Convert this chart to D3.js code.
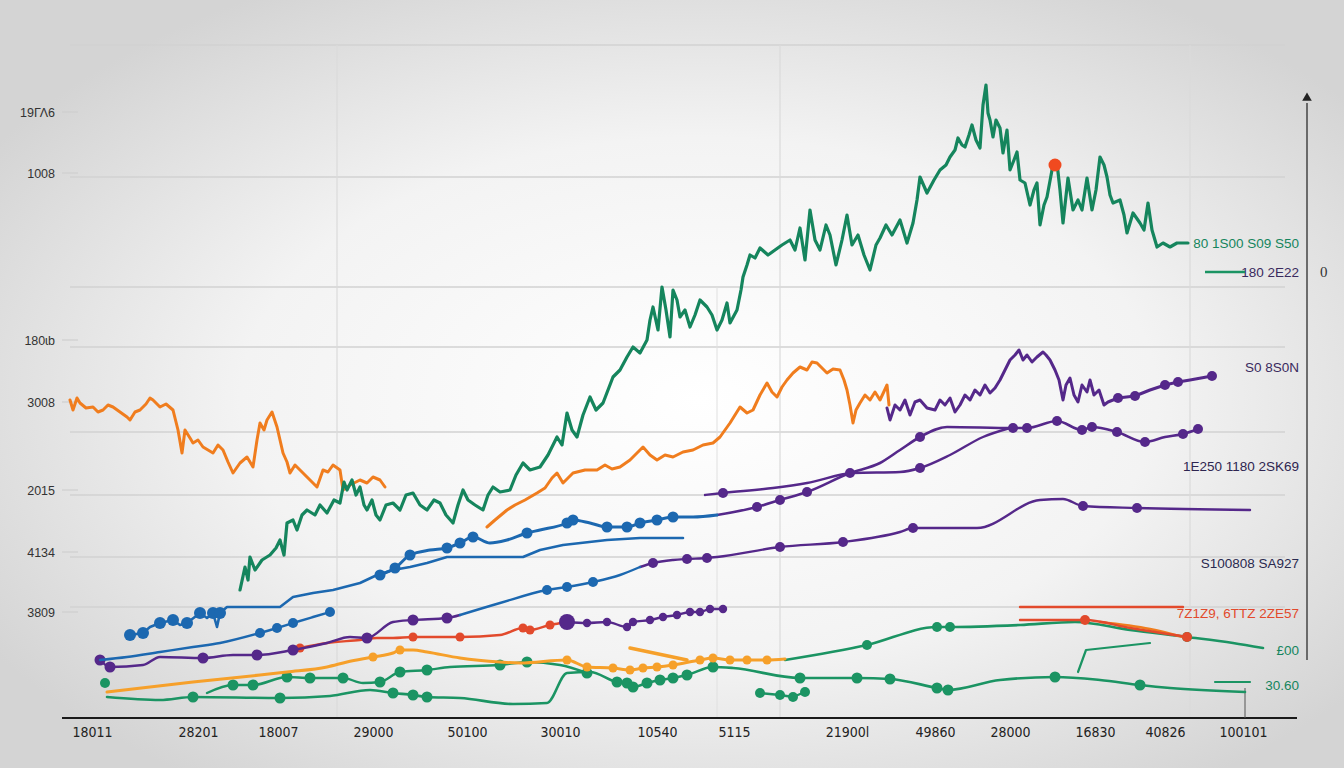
<!DOCTYPE html>
<html><head><meta charset="utf-8">
<script src="https://cdn.jsdelivr.net/npm/d3@7"></script>
<style>html,body{margin:0;padding:0;overflow:hidden;background:#e6e6e6}</style>
</head><body>
<svg id="c" width="1344" height="768"></svg>
<script>
// ---------- DATA ----------
const yTickLabels = ["19ΓΛ6","1008","180ɩb","3008","2015","4134","3809"];
const yTickLabelValues = [60.6,54.5,37.8,31.6,22.8,16.6,10.6];
const gridValues = [67.3,54.1,43.1,37.1,28.6,22.3,16.1,11.1];
const xTickLabels = ["18011","28201","18007","29000","50100","30010","10540","5115","21900l","49860","28000","16830","40826","100101"];
const xTickValues = [3.2,13.8,21.8,31.3,40.7,50.0,59.7,67.4,78.7,87.5,95.0,103.5,110.5,118.3];
const vGridValues = [27.7,72.0,113.0];
const rightLabels = ["80 1S00  S09 S50","180 2E22","S0 8S0N","1E250 1180 2SK69","S100808  SA927","7Z1Z9, 6TTZ 2ZE57","£00","30.60"];
const rightLabelValues = [47.5,44.6,35.1,25.2,15.5,10.5,6.8,3.3];

const greenMain = [[18.0,12.8],[18.5,15.1],[18.8,13.8],[19.0,16.1],[19.5,14.8],[20.2,15.8],[21.0,16.3],[21.6,17.0],[22.0,17.8],[22.4,16.3],[22.7,19.5],[23.3,19.8],[23.7,18.8],[24.2,20.3],[24.7,20.8],[25.5,20.3],[26.0,21.3],[26.7,20.5],[27.4,21.8],[28.0,21.5],[28.4,23.6],[28.7,22.8],[29.2,23.8],[29.6,22.3],[30.0,23.1],[30.4,21.3],[30.7,20.8],[31.2,21.8],[31.6,20.3],[32.0,19.8],[32.6,21.3],[33.3,21.5],[34.0,20.8],[34.6,22.3],[35.3,22.5],[36.0,21.3],[36.7,20.8],[37.4,21.8],[38.0,21.5],[38.6,20.3],[39.3,19.5],[39.8,21.3],[40.3,22.8],[40.8,21.8],[41.5,21.3],[42.3,20.8],[42.8,22.3],[43.3,23.1],[44.0,22.6],[45.0,22.8],[45.6,24.3],[46.3,25.5],[47.0,24.8],[48.0,25.1],[48.8,26.3],[49.7,28.1],[50.2,27.3],[50.7,30.5],[51.2,28.8],[51.7,28.1],[52.3,30.3],[53.0,32.1],[53.6,30.8],[54.3,31.5],[54.8,32.8],[55.3,34.1],[56.0,34.8],[56.7,36.1],[57.3,37.1],[58.0,36.5],[58.7,37.8],[59.0,39.8],[59.3,41.1],[59.8,38.8],[60.2,43.1],[60.6,40.8],[61.0,38.1],[61.3,42.8],[61.7,41.8],[62.0,40.1],[62.5,40.8],[63.0,39.1],[63.5,40.3],[64.0,41.8],[64.7,41.1],[65.2,40.3],[65.7,38.8],[66.2,39.8],[66.7,41.5],[67.0,39.5],[67.7,40.8],[68.1,42.8],[68.3,44.1],[68.7,45.3],[69.0,46.3],[69.5,46.0],[70.0,47.0],[70.8,46.3],[71.5,46.8],[72.2,47.3],[73.0,47.8],[73.5,46.8],[74.0,49.0],[74.5,45.8],[75.0,50.8],[75.5,47.8],[76.0,46.8],[76.6,49.3],[77.0,48.3],[77.6,45.3],[78.2,47.8],[78.7,50.3],[79.2,47.3],[79.8,48.3],[80.4,46.3],[81.0,44.8],[81.6,47.3],[82.0,48.0],[82.6,49.3],[83.2,48.3],[84.0,49.8],[84.7,47.5],[85.3,49.5],[85.7,51.8],[86.0,54.1],[86.7,52.5],[87.4,53.8],[88.0,54.8],[88.6,55.3],[89.0,56.1],[89.5,56.8],[89.8,58.0],[90.2,57.3],[90.5,57.1],[90.9,58.3],[91.2,59.3],[91.6,57.8],[92.0,57.0],[92.3,61.3],[92.6,63.3],[92.8,60.5],[93.0,59.8],[93.3,58.1],[93.6,59.8],[94.0,59.0],[94.3,56.5],[94.7,58.8],[95.0,54.8],[95.4,55.8],[95.7,56.6],[96.0,53.8],[96.5,53.5],[97.0,51.3],[97.4,52.8],[97.7,53.5],[98.0,49.3],[98.4,51.3],[98.7,52.1],[99.2,54.8],[99.7,55.5],[100.0,52.8],[100.3,49.5],[100.8,54.0],[101.3,50.8],[101.8,51.8],[102.2,50.8],[102.7,54.0],[103.2,50.8],[103.6,52.8],[104.0,56.1],[104.4,55.3],[104.7,54.1],[105.0,52.3],[105.3,51.5],[106.0,51.8],[106.4,50.3],[106.7,48.5],[107.3,50.5],[108.0,49.5],[108.4,48.8],[108.8,51.5],[109.2,48.8],[109.7,47.1],[110.3,47.5],[111.0,47.1],[111.7,47.5],[112.8,47.5]];
const redPeak = [[99.5,55.3]];

const orangeMain1 = [[1.0,31.8],[1.3,30.8],[1.7,32.0],[2.0,31.5],[2.6,31.0],[3.3,31.1],[3.8,30.6],[4.3,30.8],[4.8,31.3],[5.3,31.1],[6.0,30.6],[6.7,30.1],[7.0,29.8],[7.5,30.6],[8.0,30.8],[8.6,31.4],[9.0,32.0],[9.3,31.8],[10.0,31.1],[10.6,31.4],[11.3,30.8],[11.8,28.8],[12.2,26.5],[12.5,28.8],[13.0,28.0],[13.3,27.5],[13.8,27.8],[14.3,27.1],[14.8,26.8],[15.3,26.5],[15.8,27.3],[16.3,26.8],[16.8,25.6],[17.3,24.5],[18.0,25.5],[18.7,26.1],[19.3,25.1],[19.7,27.8],[20.0,29.5],[20.4,28.8],[20.7,29.8],[21.2,30.6],[21.7,29.1],[22.0,27.8],[22.3,26.5],[22.7,25.6],[23.0,24.5],[23.5,25.3],[24.0,24.8],[24.5,24.3],[25.0,23.8],[25.7,23.1],[26.3,24.8],[26.8,24.6],[27.3,25.3],[28.0,24.8],[28.3,22.8],[29.0,23.3],[30.0,23.8],[30.7,23.5],[31.3,24.1],[32.0,23.8],[32.5,23.1]];
const orangeMain2 = [[42.7,19.1],[43.5,19.8],[44.7,20.8],[45.5,21.3],[46.5,21.8],[47.7,22.5],[48.5,23.0],[49.2,24.0],[49.7,24.5],[50.3,23.5],[51.3,24.5],[52.5,24.8],[53.7,24.8],[54.5,25.3],[55.2,24.9],[56.0,25.1],[57.0,25.8],[57.8,26.6],[58.3,27.1],[59.0,26.3],[59.7,25.8],[60.5,26.3],[61.3,26.1],[62.3,26.6],[63.3,26.8],[64.3,27.3],[65.3,27.5],[66.0,28.1],[66.5,28.8],[67.0,29.5],[67.5,30.3],[68.0,31.1],[68.7,30.5],[69.3,30.8],[70.0,32.3],[70.7,33.5],[71.2,32.6],[71.7,32.1],[72.2,33.1],[72.7,33.8],[73.3,34.5],[74.0,35.1],[74.7,34.8],[75.2,35.6],[75.7,35.5],[76.2,35.0],[76.7,34.5],[77.3,34.9],[78.0,34.8],[78.4,33.8],[78.7,32.8],[79.0,31.3],[79.3,29.5],[79.6,30.8],[80.0,31.5],[80.5,32.3],[81.0,31.8],[81.5,32.6],[82.0,31.8],[82.7,33.3],[82.9,31.3]];
const purpleMain = [[82.7,31.0],[83.0,29.8],[83.5,31.3],[84.0,30.8],[84.5,31.8],[85.0,30.3],[85.5,31.6],[86.0,31.8],[86.7,31.0],[87.5,30.8],[88.0,31.8],[88.5,31.3],[89.0,32.0],[89.5,30.6],[90.0,31.3],[90.5,32.3],[91.0,31.8],[91.5,32.8],[92.0,32.3],[92.5,33.3],[93.0,32.5],[93.5,33.0],[94.0,33.8],[94.5,34.8],[95.0,35.8],[95.5,36.3],[95.9,36.8],[96.3,35.8],[96.7,36.3],[97.2,35.6],[97.7,36.1],[98.3,36.6],[98.6,36.3],[99.0,35.8],[99.5,34.8],[99.9,33.8],[100.3,31.8],[100.6,33.3],[101.0,34.0],[101.4,32.3],[101.8,31.6],[102.2,33.3],[102.7,32.6],[103.0,33.8],[103.4,32.3],[103.9,32.8],[104.4,31.3],[104.8,31.6],[105.8,32.0],[107.5,32.2],[109.0,32.8],[110.5,33.3],[111.8,33.6],[113.0,33.8],[115.2,34.2]];
const purpleMainDots = [48,49,51,52,54];

const blueA = [[7.0,8.3],[8.3,8.5],[9.0,9.1],[10.0,9.5],[11.3,9.8],[12.0,9.3],[12.7,9.5],[14.0,10.5],[14.7,10.0],[15.3,10.5],[15.7,9.1],[16.0,10.5],[16.7,11.1],[22.0,11.1],[23.3,12.1],[25.3,12.5],[27.3,12.8],[30.0,13.5],[31.7,14.3],[33.3,14.8],[35.0,15.1],[36.7,15.5],[38.7,16.1],[46.3,16.1],[48.0,16.8],[50.3,17.3],[54.7,17.8],[58.0,18.0],[62.3,18.0]];
const blueADots = [0,1,3,4,6,7,9,11];
const blueB = [[32.0,14.3],[33.5,15.0],[35.0,16.3],[37.0,16.8],[38.7,17.0],[40.0,17.5],[41.3,18.1],[43.0,17.5],[44.7,17.8],[46.7,18.5],[48.0,18.8],[50.7,19.5],[51.3,19.8],[53.0,19.5],[54.7,19.1],[56.7,19.1],[58.0,19.5],[59.7,19.8],[61.3,20.1],[63.3,20.1],[65.7,20.3]];
const blueBDots = [0,1,2,4,5,6,9,11,12,14,15,16,17,18];
const blueC = [[4.0,5.8],[6.7,6.1],[10.0,6.6],[13.3,7.1],[16.0,7.5],[20.0,8.5],[21.7,9.0],[23.3,9.5],[25.3,10.1],[27.0,10.6]];
const blueCDots = [5,6,7,9];
const blueD = [[40.0,10.3],[44.0,11.5],[48.7,12.8],[50.7,13.1],[53.3,13.6],[56.0,14.3],[58.0,15.1]];
const blueDDots = [2,3,4];

const purpleP1 = [[65.7,20.3],[69.7,21.1],[72.0,21.8],[74.7,22.6],[79.0,24.5],[82.0,25.5],[84.0,26.8],[86.0,28.1],[88.7,29.1],[95.3,29.0],[96.7,29.0],[99.7,29.7],[102.2,28.8],[103.2,29.1],[105.7,28.6],[108.5,27.6],[110.5,28.1],[112.3,28.4],[113.8,28.9]];
const purpleP1Dots = [1,2,3,4,7,9,10,11,12,13,14,15,17,18];
const purpleP2 = [[64.5,22.3],[66.3,22.5],[71.3,23.0],[74.7,23.5],[79.3,24.5],[84.0,24.6],[86.0,25.0],[89.0,26.3],[92.3,28.1],[95.0,29.0]];
const purpleP2Dots = [1,6];
const purpleP3 = [[4.0,5.8],[5.0,5.1],[8.3,5.3],[10.0,6.1],[14.3,6.0],[17.3,6.3],[19.7,6.3],[23.3,6.8],[26.7,7.5],[29.0,8.1],[30.7,8.0],[33.3,9.6],[35.3,9.8],[38.7,10.0],[40.0,10.3]];
const purpleP3Dots = [0,1,4,6,7,10,12,13];
const purpleP4 = [[58.0,15.1],[59.3,15.5],[61.3,15.8],[62.7,15.9],[64.7,16.0],[65.7,16.1],[72.0,17.1],[78.3,17.6],[84.0,18.6],[85.3,19.0],[91.7,19.0],[98.0,21.8],[100.3,21.9],[102.3,21.2],[107.7,21.0],[119.0,20.8]];
const purpleP4Dots = [1,3,4,6,7,9,13,14];
const purpleP5 = [[50.7,9.6],[52.7,9.5],[54.7,9.6],[56.7,9.1],[57.3,9.6],[59.0,9.8],[60.3,10.1],[61.7,10.3],[63.0,10.6],[64.0,10.6],[65.0,10.9],[66.3,10.9]];

const redR1 = [[24.0,7.0],[26.7,7.5],[30.0,7.8],[31.7,8.0],[33.3,8.0],[35.3,8.1],[40.0,8.1],[44.0,8.3],[46.3,9.0],[47.0,8.8],[49.0,9.3],[50.7,9.6]];
const redR1Dots = [0,5,6,8,9,10];
const redR2 = [[96.0,11.1],[112.3,11.1]];
const redR3 = [[96.0,9.8],[99.0,9.8],[102.5,9.8],[107.0,9.0],[112.7,8.1]];
const redR3Dots = [2,4];

const orangeO3 = [[4.7,2.6],[13.3,3.6],[20.0,4.3],[22.7,4.6],[26.7,5.1],[28.7,5.6],[31.3,6.1],[33.3,6.5],[34.0,6.8],[35.3,6.8],[36.7,6.6],[40.0,6.0],[44.0,5.6],[46.0,5.5],[50.7,5.8],[52.7,5.1],[55.3,5.0],[57.0,4.8],[58.3,5.0],[59.7,5.1],[61.3,5.3],[64.0,5.8],[65.3,6.0],[67.0,5.8],[68.7,5.8],[70.7,5.8],[72.5,5.9]];
const orangeO3Dots = [6,8,14,15,16,17,18,19,20,21,22,23,24,25];
const orangeO4 = [[57.0,7.0],[62.7,5.8]];
const orangeO6 = [[104.0,9.6],[109.0,8.9],[112.3,8.1]];

const greenG1 = [[4.7,2.1],[10.0,1.8],[13.3,2.1],[22.0,2.0],[27.0,2.2],[31.0,2.8],[33.3,2.5],[35.3,2.3],[36.7,2.1],[40.0,2.0],[45.3,1.4],[48.7,1.5],[50.7,4.5],[53.0,4.6],[55.7,3.6],[56.7,3.5],[57.3,3.1],[58.7,3.5],[60.0,3.8],[61.3,4.0],[62.7,4.3],[65.3,5.1],[67.3,5.0],[74.0,4.0],[79.7,4.0],[83.0,3.9],[87.7,3.0],[88.8,2.8],[94.0,3.8],[99.5,4.1],[104.0,3.8],[108.0,3.3],[111.0,3.0],[118.5,2.6]];
const greenG1Dots = [2,3,6,7,8,14,15,16,17,18,19,20,21,23,24,25,26,27,29,31];
const greenG2 = [[14.7,2.5],[17.3,3.3],[19.3,3.3],[22.7,4.1],[25.0,4.0],[28.3,4.0],[30.3,3.5],[32.0,3.6],[34.0,4.6],[36.7,4.8],[39.0,5.1],[44.0,5.3],[46.7,5.6],[50.0,5.3],[52.7,4.5]];
const greenG2Dots = [1,2,3,4,5,7,8,9,11,12,14];
const greenG3 = [[72.5,5.8],[80.7,7.3],[87.7,9.1],[89.0,9.1],[96.0,9.3],[101.5,9.6],[107.0,8.8],[112.7,8.1],[117.3,7.5],[120.3,7.0]];
const greenG3Dots = [1,2,3,7];
const greenG4 = [[70.0,2.5],[72.0,2.3],[73.3,2.1],[74.5,2.6]];
const greenG5 = [[101.8,4.6],[102.6,6.8],[109.0,7.5]];
const greenG6 = [[115.5,3.6],[119.0,3.6]];
const greenLone = [[4.5,3.5]];

// ---------- DRAW ----------
const W = 1344, H = 768;
const svg = d3.select("#c");
const x = d3.scaleLinear().domain([0,124]).range([60,1300]);
const y = d3.scaleLinear().domain([0,68]).range([718,38]);

const defs = svg.append("defs");
const rg = defs.append("radialGradient").attr("id","bg").attr("cx","52%").attr("cy","52%").attr("r","62%");
rg.append("stop").attr("offset","0%").attr("stop-color","#ffffff");
rg.append("stop").attr("offset","55%").attr("stop-color","#f3f3f3");
rg.append("stop").attr("offset","100%").attr("stop-color","#d4d4d4");
svg.append("rect").attr("width",W).attr("height",H).attr("fill","url(#bg)");

// grid
const grid = svg.append("g");
grid.selectAll("line.h").data(gridValues).join("line")
  .attr("x1",70).attr("x2",1285).attr("y1",d=>y(d)).attr("y2",d=>y(d))
  .attr("stroke","#d2d2d2").attr("stroke-width",1.3);
grid.selectAll("line.v").data(vGridValues).join("line")
  .attr("x1",d=>x(d)).attr("x2",d=>x(d)).attr("y1",y(67.3)).attr("y2",y(0))
  .attr("stroke","#dadada").attr("stroke-width",1.2);
grid.append("line").attr("x1",x(65.7)).attr("x2",x(65.7)).attr("y1",y(43.1)).attr("y2",y(0))
  .attr("stroke","#e0e0e0").attr("stroke-width",1);
// left tick stubs
grid.selectAll("line.s").data(yTickLabelValues).join("line")
  .attr("x1",62).attr("x2",78).attr("y1",d=>y(d)).attr("y2",d=>y(d))
  .attr("stroke","#cfcfcf").attr("stroke-width",1.2);

// axes
svg.append("line").attr("x1",62).attr("x2",1297).attr("y1",y(0)).attr("y2",y(0))
  .attr("stroke","#1a1a1a").attr("stroke-width",2);
const xAxis = d3.axisBottom(x).tickValues(xTickValues).tickFormat((d,i)=>xTickLabels[i]).tickSize(0).tickPadding(8);
const gx = svg.append("g").attr("transform",`translate(0,${y(0)+1})`).call(xAxis);
gx.select(".domain").remove();
gx.selectAll("text").attr("font-family","'Liberation Sans Narrow','DejaVu Sans Condensed',sans-serif")
  .attr("font-size",14).attr("fill","#222");

const yAxis = d3.axisLeft(y).tickValues(yTickLabelValues).tickFormat((d,i)=>yTickLabels[i]).tickSize(0).tickPadding(0);
const gy = svg.append("g").attr("transform","translate(55,0)").call(yAxis);
gy.select(".domain").remove();
gy.selectAll("text").attr("font-family","'Liberation Sans','DejaVu Sans',sans-serif")
  .attr("font-size",12.5).attr("fill","#333");

// right axis with arrow
const ra = svg.append("g");
ra.append("line").attr("x1",x(124.7)).attr("x2",x(124.7)).attr("y1",y(61.5)).attr("y2",y(5.8))
  .attr("stroke","#444").attr("stroke-width",1.5);
ra.append("path").attr("d",d3.symbol(d3.symbolTriangle,40)()).attr("transform",`translate(${x(124.7)},${y(62.0)})`).attr("fill","#222");
ra.append("text").attr("x",x(126.0)).attr("y",y(44.6)+5).attr("font-size",15)
  .attr("font-family","'Liberation Serif','DejaVu Serif',serif").attr("fill","#333").text("0");
svg.append("line").attr("x1",x(118.5)).attr("x2",x(118.5)).attr("y1",y(3.0)).attr("y2",y(0))
  .attr("stroke","#555").attr("stroke-width",1);

// helpers
const lineGen = d3.line().x(d=>x(d[0])).y(d=>y(d[1]));
const smoothGen = d3.line().x(d=>x(d[0])).y(d=>y(d[1])).curve(d3.curveMonotoneX);
const plot = svg.append("g");
function path(data, color, w, smooth){
  plot.append("path").datum(data).attr("d", smooth ? smoothGen : lineGen)
    .attr("fill","none").attr("stroke",color).attr("stroke-width",w)
    .attr("stroke-linejoin","round").attr("stroke-linecap","round");
}
function dots(data, idx, color, r){
  plot.selectAll(null).data(idx.map(i=>data[i])).join("circle")
    .attr("cx",d=>x(d[0])).attr("cy",d=>y(d[1])).attr("r",r).attr("fill",color);
}

const GREEN="#15855d", GREEN2="#1b9463", ORANGE="#f07d1e", ORANGE2="#f6a02a", BLUE="#1c68b0", PURPLE="#55288a", RED="#e24a2c";

// lower lines first
path(greenG1, GREEN2, 2.6, true); dots(greenG1, greenG1Dots, GREEN2, 5.5);
path(greenG2, GREEN2, 2.4, true); dots(greenG2, greenG2Dots, GREEN2, 5.5);
path(greenG3, GREEN2, 2.6, true); dots(greenG3, greenG3Dots, GREEN2, 5);
path(greenG4, GREEN2, 2.4, false); dots(greenG4, [0,1,2,3], GREEN2, 5);
path(greenG5, GREEN2, 2.2, false);
path(greenG6, GREEN2, 2.2, false);
dots(greenLone, [0], GREEN2, 5);
path(orangeO3, ORANGE2, 3, true); dots(orangeO3, orangeO3Dots, ORANGE2, 4.5);
path(orangeO4, ORANGE2, 3.5, false);
path(orangeO6, ORANGE, 2.4, true);
path(redR1, RED, 2.4, true); dots(redR1, redR1Dots, RED, 4.5);
path(redR2, RED, 2.4, false);
path(redR3, RED, 2.4, true); dots(redR3, redR3Dots, RED, 5);
path(purpleP5, PURPLE, 2.4, true); dots(purpleP5, d3.range(purpleP5.length), PURPLE, 4.2);
dots(purpleP5, [0], PURPLE, 8);
path(purpleP3, PURPLE, 2.4, true); dots(purpleP3, purpleP3Dots, PURPLE, 5.5);
path(purpleP4, PURPLE, 2.4, true); dots(purpleP4, purpleP4Dots, PURPLE, 5);
path(purpleP2, PURPLE, 2.4, true); dots(purpleP2, purpleP2Dots, PURPLE, 5);
path(purpleP1, PURPLE, 2.6, true); dots(purpleP1, purpleP1Dots, PURPLE, 5);
path(blueC, BLUE, 2.4, true); dots(blueC, blueCDots, BLUE, 5);
path(blueD, BLUE, 2.4, true); dots(blueD, blueDDots, BLUE, 5);
path(blueA, BLUE, 2.6, false); dots(blueA, blueADots, BLUE, 6);
path(blueB, BLUE, 3, true); dots(blueB, blueBDots, BLUE, 5.5);

// jagged main lines
path(orangeMain1, ORANGE, 3, false);
path(orangeMain2, ORANGE, 3, false);
path(purpleMain, PURPLE, 3, false); dots(purpleMain, purpleMainDots, PURPLE, 5);
path(greenMain, GREEN, 3.2, false);
dots(redPeak, [0], "#f04a20", 6.5);

// right labels
const rColors = [GREEN, "#3a2a5e", "#3a2a5e", "#2e2550", "#2a2a50", RED, GREEN, GREEN];
svg.append("g").selectAll("text").data(rightLabels).join("text")
  .attr("x", x(123.9)).attr("y",(d,i)=>y(rightLabelValues[i])+5)
  .attr("text-anchor","end").attr("font-size",13.5)
  .attr("font-family","'Liberation Sans','DejaVu Sans',sans-serif")
  .attr("fill",(d,i)=>rColors[i]).text(d=>d);
svg.append("line").attr("x1",x(114.5)).attr("x2",x(118.5)).attr("y1",y(44.6)).attr("y2",y(44.6))
  .attr("stroke",GREEN2).attr("stroke-width",2.5);
</script>
</body></html>
